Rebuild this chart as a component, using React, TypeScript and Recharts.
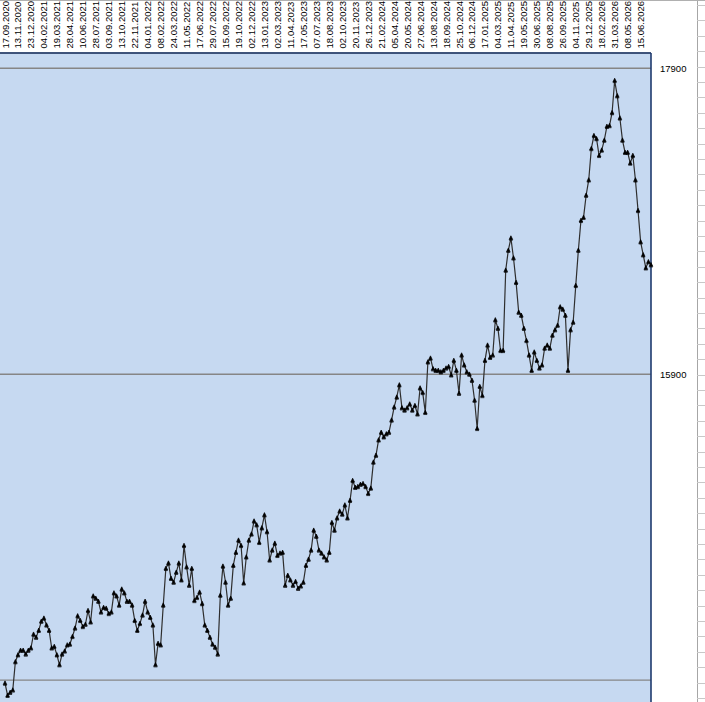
import React from "react";
import { LineChart, Line, XAxis, YAxis, CartesianGrid } from "recharts";

const dateLabels = [
  "17.09.2020", "13.11.2020", "23.12.2020", "04.02.2021", "19.03.2021", "28.04.2021", "10.06.2021",
  "28.07.2021", "03.09.2021", "13.10.2021", "22.11.2021", "04.01.2022", "08.02.2022", "24.03.2022",
  "11.05.2022", "17.06.2022", "29.07.2022", "15.09.2022", "19.10.2022", "02.12.2022", "13.01.2023",
  "02.03.2023", "11.04.2023", "17.05.2023", "07.07.2023", "18.08.2023", "02.10.2023", "20.11.2023",
  "26.12.2023", "21.02.2024", "05.04.2024", "20.05.2024", "27.06.2024", "13.08.2024", "18.09.2024",
  "25.10.2024", "06.12.2024", "17.01.2025", "04.03.2025", "11.04.2025", "19.05.2025", "30.06.2025",
  "08.08.2025", "26.09.2025", "04.11.2025", "29.12.2025", "18.02.2026", "31.03.2026", "08.05.2026",
  "15.06.2026",
];

const pointsPerLabel = 5;

const values = [
  13880, 13800, 13820, 13835, 14020, 14065, 14095, 14095, 14070, 14095,
  14110, 14200, 14180, 14225, 14285, 14305, 14260, 14225, 14110, 14120,
  14065, 14000, 14070, 14090, 14130, 14135, 14185, 14240, 14320, 14290,
  14250, 14265, 14355, 14280, 14450, 14435, 14415, 14345, 14375, 14370,
  14335, 14345, 14470, 14450, 14390, 14495, 14470, 14415, 14415, 14390,
  14290, 14225, 14270, 14325, 14415, 14345, 14310, 14260, 14000, 14140,
  14130, 14390, 14630, 14665, 14565, 14540, 14605, 14665, 14555, 14780,
  14640, 14520, 14630, 14420, 14440, 14475, 14400, 14260, 14225, 14180,
  14135, 14115, 14070, 14455, 14645, 14540, 14390, 14435, 14650, 14735,
  14815, 14780, 14535, 14705, 14815, 14855, 14940, 14915, 14800, 14895,
  14980, 14870, 14685, 14750, 14795, 14715, 14730, 14735, 14520, 14585,
  14555, 14520, 14545, 14500, 14515, 14540, 14650, 14690, 14750, 14880,
  14840, 14750, 14730, 14705, 14685, 14735, 14930, 14880, 14960, 15005,
  14985, 15045, 14960, 15075, 15205, 15160, 15165, 15180, 15185, 15165,
  15120, 15155, 15325, 15370, 15470, 15520, 15490, 15510, 15520, 15600,
  15685, 15750, 15830, 15680, 15665, 15680, 15705, 15665, 15695, 15640,
  15810, 15780, 15650, 15980, 16005, 15935, 15925, 15925, 15915, 15925,
  15940, 15950, 15895, 15990, 15925, 15775, 16025, 15960, 15915, 15900,
  15860, 15730, 15545, 15820, 15760, 15990, 16090, 16010, 16025, 16255,
  16200, 16055, 16055, 16580, 16710, 16790, 16660, 16500, 16305, 16285,
  16200, 16120, 16025, 15925, 16045, 15990, 15940, 15960, 16070, 16090,
  16070, 16155, 16190, 16220, 16340, 16325, 16285, 15925, 16190, 16240,
  16480, 16710, 16905, 16925, 17070, 17170, 17375, 17460, 17440, 17330,
  17365, 17430, 17520, 17525, 17610, 17820, 17720, 17575, 17430, 17350,
  17350, 17280, 17330, 17170, 16970, 16765, 16680, 16595, 16635, 16615,
];

const yTicks = [13900, 15900, 17900];
const shownYLabels = [15900, 17900];

const data = values.map((v, i) => ({ i, v }));
const xTicks = dateLabels.map((_, k) => k * pointsPerLabel);

const DateTick = (props: any) => {
  const { x, payload } = props;
  const label = dateLabels[Math.round(payload.value / pointsPerLabel)] ?? "";
  return (
    <g transform={`translate(${x + 3.5},48.5) rotate(-90)`}>
      <text x={0} y={0} textAnchor="start" fontSize={9.5} fill="#000">
        {label}
      </text>
    </g>
  );
};

const ValueTick = (props: any) => {
  const { x, y, payload } = props;
  if (!shownYLabels.includes(payload.value)) return <g />;
  return (
    <text x={x} y={y} dy="0.35em" textAnchor="start" fontSize={9.5} fill="#000">
      {payload.value}
    </text>
  );
};

const TriDot = (props: any) => {
  const { cx, cy, index } = props;
  if (cx == null || cy == null) return <g key={`d${index}`} />;
  return (
    <path
      key={`d${index}`}
      d={`M${cx - 1.8},${cy + 1.5} L${cx},${cy - 2.3} L${cx + 1.8},${cy + 1.5} Z M${cx - 1.9},${cy + 2.1} L${cx + 1.9},${cy + 2.1}`}
      fill="#000"
      stroke="#000"
      strokeWidth={0.7}
    />
  );
};

const rowLines = Array.from({ length: 46 }, (_, k) => 5 + k * 15.4);

export default function App() {
  return (
    <div
      style={{
        position: "absolute",
        left: 0,
        top: 0,
        width: 705,
        height: 702,
        overflow: "hidden",
        background: "#fff",
        fontFamily: "'Liberation Sans', Arial, sans-serif",
      }}
    >
      <div style={{ position: "absolute", left: 697, top: 0, width: 1, height: 702, background: "#a6a6a6" }} />
      {rowLines.map((y, k) => (
        <div key={k} style={{ position: "absolute", left: 697, top: y, width: 8, height: 1, background: "#c8c8c8" }} />
      ))}
      <div style={{ position: "absolute", left: 0, top: 0 }}>
        <LineChart width={705} height={726} data={data} margin={{ top: 0, right: 0, bottom: 0, left: 0 }}>
          <CartesianGrid vertical={false} fill="#c6d9f1" fillOpacity={1} stroke="#868686" strokeWidth={1.4} />
          <XAxis
            dataKey="i"
            type="number"
            orientation="top"
            domain={[0, values.length - 1]}
            ticks={xTicks}
            interval={0}
            height={53}
            padding={{ left: 5, right: 0 }}
            axisLine={{ stroke: "#1f3a6e", strokeWidth: 1.6 }}
            tickLine={false}
            tick={<DateTick />}
          />
          <YAxis
            orientation="right"
            width={54}
            domain={[13600, 18000]}
            ticks={yTicks}
            allowDataOverflow
            axisLine={{ stroke: "#1f3a6e", strokeWidth: 1.6 }}
            tickLine={false}
            tickSize={0}
            tickMargin={9}
            tick={<ValueTick />}
          />
          <Line
            type="linear"
            dataKey="v"
            stroke="#2e2e2e"
            strokeWidth={1.2}
            dot={<TriDot />}
            activeDot={false}
            isAnimationActive={false}
          />
        </LineChart>
      </div>
      <div style={{ position: "absolute", left: 0, top: 0, width: 705, height: 1, background: "#b0b0b0" }} />
    </div>
  );
}
